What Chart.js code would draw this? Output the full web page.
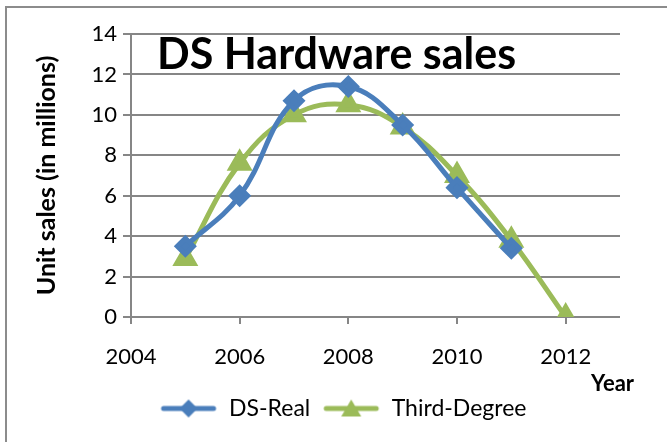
<!DOCTYPE html>
<html>
<head>
<meta charset="utf-8">
<script src="https://cdn.jsdelivr.net/npm/chart.js@4.4.1/dist/chart.umd.min.js"></script>
<style>
  body { margin: 0; background: #fff; }
  #frame { position: absolute; left: 5px; top: 6px; width: 700px; height: 480px; border-left: 2px solid #8c8c8c; border-top: 2px solid #8c8c8c; }
  #wrap { position: absolute; left: 0; top: 0; width: 667px; height: 442px; }
</style>
</head>
<body>
<div id="frame"></div>
<div id="wrap"><canvas id="myChart" width="667" height="442"></canvas></div>
<script>
var years = [2005, 2006, 2007, 2008, 2009, 2010, 2011, 2012];
var realValues = [3.5, 6.0, 10.7, 11.4, 9.5, 6.4, 3.4];
var thirdValues = [2.9, 7.6, 10.0, 10.5, 9.4, 7.0, 3.8, 0];
var xTicks = [2004, 2006, 2008, 2010, 2012];
var yTicks = [0, 2, 4, 6, 8, 10, 12, 14];

var blue = "#4a7ebb";
var green = "#9bbb59";
var fontName = "Lato, 'Open Sans', sans-serif";

function toPoints(vals) {
  return vals.map(function (v, i) { return { x: years[i], y: v }; });
}

// small canvas used as legend marker: line with the point shape on top
function legendIcon(color, shape) {
  var c = document.createElement("canvas");
  c.width = 58; c.height = 24;
  var g = c.getContext("2d");
  g.strokeStyle = color;
  g.lineWidth = 5;
  g.lineCap = "round";
  g.beginPath(); g.moveTo(4, 12); g.lineTo(54, 12); g.stroke();
  g.fillStyle = color;
  g.beginPath();
  if (shape == "diamond") {
    g.moveTo(29, 3); g.lineTo(38, 12); g.lineTo(29, 21); g.lineTo(20, 12);
  } else {
    g.moveTo(29, 3); g.lineTo(39, 20); g.lineTo(19, 20);
  }
  g.closePath(); g.fill();
  return c;
}

var overlay = {
  id: "overlay",
  afterLayout: function (chart) {
    // legend sits a bit right of centre in the original
    chart.legend.left += 19;
    chart.legend.right += 19;
  },
  afterDraw: function (chart) {
    var ctx = chart.ctx;
    ctx.save();
    ctx.fillStyle = "#000";
    ctx.font = "bold 43px " + fontName;
    ctx.textBaseline = "middle";
    ctx.textAlign = "left";
    ctx.fillText("DS Hardware sales", 157, 55);
    ctx.font = "bold 22px " + fontName;
    ctx.textAlign = "right";
    ctx.fillText("Year", 634, 384);
    ctx.restore();
  }
};

new Chart("myChart", {
  type: "scatter",
  data: {
    datasets: [
      {
        label: "DS-Real",
        data: toPoints(realValues),
        showLine: true,
        borderColor: blue,
        backgroundColor: blue,
        borderWidth: 5,
        tension: 0.4,
        pointStyle: "rectRot",
        pointRadius: 8,
        pointHoverRadius: 8,
      },
      {
        label: "Third-Degree",
        data: toPoints(thirdValues),
        showLine: true,
        borderColor: green,
        backgroundColor: green,
        borderWidth: 5,
        tension: 0.4,
        pointStyle: "triangle",
        pointRadius: 10,
        pointHoverRadius: 10,
      },
    ],
  },
  options: {
    responsive: false,
    animation: false,
    layout: { padding: { left: 28, right: 47, top: 34, bottom: 12 } },
    scales: {
      x: {
        type: "linear",
        min: 2004,
        max: 2013,
        afterBuildTicks: function (scale) {
          scale.ticks = xTicks.map(function (v) { return { value: v }; });
        },
        afterFit: function (scale) { scale.height = 68; },
        grid: { drawOnChartArea: false, tickLength: 7, color: "#868686", lineWidth: 2 },
        border: { display: false },
        ticks: {
          padding: 20,
          color: "#000",
          font: { family: fontName, size: 22 },
          callback: function (v) { return String(v); },
        },
      },
      y: {
        min: 0,
        max: 14,
        afterBuildTicks: function (scale) {
          scale.ticks = yTicks.map(function (v) { return { value: v }; });
        },
        afterFit: function (scale) { scale.width = 103; },
        grid: { color: "#868686", lineWidth: 2, tickLength: 8 },
        border: { color: "#868686", width: 2 },
        ticks: {
          padding: 6,
          color: "#000",
          font: { family: fontName, size: 22 },
        },
        title: {
          display: true,
          text: "Unit sales (in millions)",
          color: "#000",
          font: { family: fontName, size: 25, weight: "bold" },
          padding: { top: 4, bottom: 4 },
        },
      },
    },
    plugins: {
      legend: {
        position: "bottom",
        labels: {
          usePointStyle: true,
          pointStyleWidth: 58,
          color: "#000",
          font: { family: fontName, size: 23 },
          padding: 12,
          generateLabels: function (chart) {
            return chart.data.datasets.map(function (ds, i) {
              return {
                text: ds.label,
                pointStyle: legendIcon(ds.borderColor, i == 0 ? "diamond" : "triangle"),
                datasetIndex: i,
                fillStyle: ds.borderColor,
                strokeStyle: ds.borderColor,
                lineWidth: 0,
                fontColor: "#000",
              };
            });
          },
        },
      },
      tooltip: { enabled: false },
    },
  },
  plugins: [overlay],
});
</script>
</body>
</html>
